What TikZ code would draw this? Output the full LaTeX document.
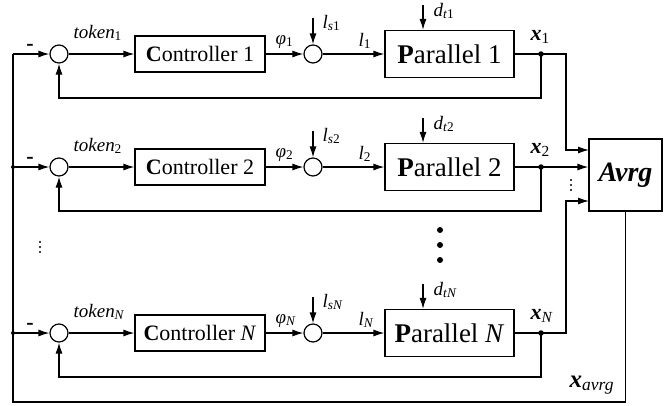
\documentclass[tikz,border=0pt]{standalone}
\usepackage{fontspec}
\setmainfont{Liberation Serif}
\usetikzlibrary{arrows.meta}
\begin{document}
\begin{tikzpicture}[x=1pt,y=1pt,line width=1.2pt,
  arr/.style={-{Latex[length=11pt,width=7pt]}},
  sumnode/.style={circle,draw,minimum size=18pt,inner sep=0pt},
  ctrl/.style={draw,minimum width=130pt,minimum height=36pt,inner sep=0pt,font=\fontsize{22}{23}\selectfont},
  plant/.style={draw,minimum width=129pt,minimum height=47pt,inner sep=0pt,font=\fontsize{27}{28}\selectfont},
  lab/.style={inner sep=0pt,font=\fontsize{19}{21}\selectfont},
  jdot/.style={circle,fill,inner sep=0pt,minimum size=5.5pt},
  sdot/.style={circle,fill,inner sep=0pt,minimum size=4pt}]
\useasboundingbox (0,0) rectangle (669,-405);
\foreach \k/\r/\sub in {1/-54/1, 2/-167/2, 3/-333/{\textit{N}}}{
  \node[sumnode] (sa\k) at (59,\r) {};
  \node[ctrl] (c\k) at (200,\r) {\textbf{C}ontroller \sub};
  \node[sumnode] (sb\k) at (313,\r) {};
  \node[plant] (p\k) at (449.5,\r) {\textbf{P}arallel \sub};
  \node[jdot] (j\k) at (541,\r) {};
  \coordinate (in\k) at (13,\r);
  \coordinate (ls\k) at (313,\r+36);
  \coordinate (dt\k) at (423,\r+49);
  \coordinate (fb\k) at (59,\r-44);
  \draw[arr] (in\k) -- (sa\k);
  \draw[arr] (sa\k) -- (c\k);
  \draw[arr] (c\k) -- (sb\k);
  \draw[arr] (sb\k) -- (p\k);
  \draw (p\k) -- (j\k.center);
  \draw[arr] (j\k.center) |- (fb\k) -- (sa\k.south);
  \draw[arr] (ls\k) -- (sb\k.north);
  \draw[arr] (dt\k) -- (dt\k |- p\k.north);
  \node[lab,font=\fontsize{22}{22}\selectfont\bfseries] (m\k) at (30,\r+7) {-};
  \node[lab,anchor=base west] (tk\k) at (73,\r+16) {\textit{token}\textsubscript{\sub}};
  \node[lab,anchor=base west] (ph\k) at (275,\r+10) {\textit{φ}\textsubscript{\sub}};
  \node[lab,anchor=base west] (lsl\k) at (322,\r+26) {\textit{l}\textsubscript{\textit{s}\sub}};
  \node[lab,anchor=base west] (ll\k) at (358,\r+8) {\textit{l}\textsubscript{\sub}};
  \node[lab,anchor=base west] (dl\k) at (433,\r+38) {\textit{d}\textsubscript{\textit{t}\sub}};
  \node[lab,anchor=base west,font=\fontsize{22}{24}\selectfont] (xl\k) at (530,\r+14) {\textbf{\textit{x}}\textsubscript{\sub}};
}
\node[draw,minimum width=73pt,minimum height=72pt,inner sep=0pt,font=\fontsize{28}{29}\selectfont] (avg) at (625.5,-175) {\textbf{\textit{Avrg}}};
\coordinate (a1) at (589,-150);
\coordinate (a3) at (589,-201);
\coordinate (bl) at (13,-402);
\draw[arr] (j1.center) -| ([xshift=-23pt]a1) -- (a1);
\draw[arr] (j2.center) -- (avg.west |- j2);
\draw[arr] (j3.center) -| ([xshift=-23pt]a3) -- (a3);
\draw (avg.south) |- (bl) -- (in1);
\node[sdot] at (in2) {};
\node[sdot] at (in3) {};
\node[inner sep=0pt,anchor=base west,font=\fontsize{25}{27}\selectfont] (xa) at (569,-387) {\textbf{\textit{x}}\textsubscript{\textit{avrg}}};
\foreach \y in {242,247,252} \fill (40,-\y) circle (1.1pt);
\foreach \y in {180,185,190} \fill (571,-\y) circle (1.1pt);
\foreach \y in {230,245,260} \fill (440,-\y) circle (3pt);
\end{tikzpicture}
\end{document}
